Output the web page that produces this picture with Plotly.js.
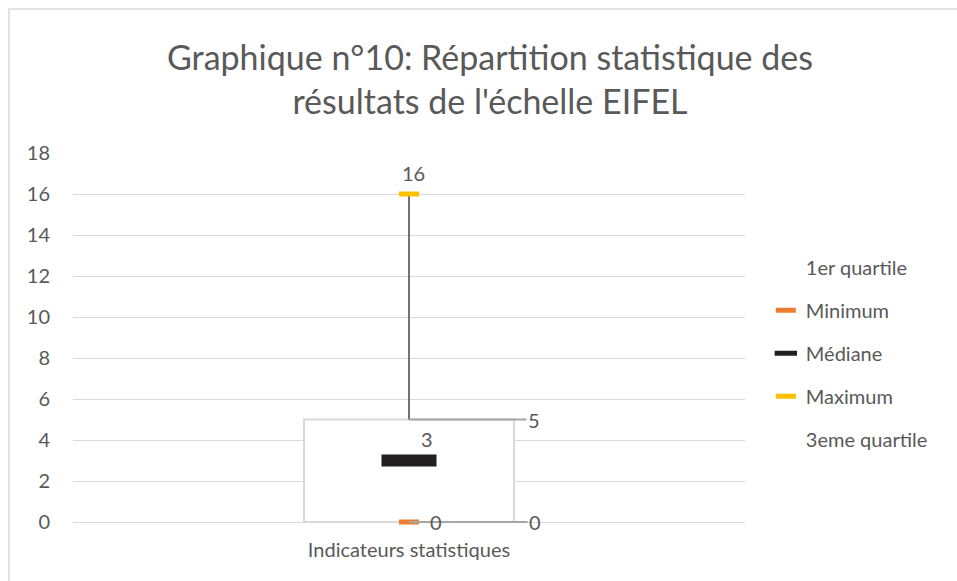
<!DOCTYPE html>
<html>
<head>
<meta charset="utf-8">
<script src="https://cdn.plot.ly/plotly-3.0.1.min.js"></script>
<style>html,body{margin:0;padding:0;background:#fff;}#chart{width:957px;height:581px;}</style>
</head>
<body>
<div id="chart"></div>
<script>
// ---- data ----
const categories = ["Indicateurs statistiques"];
const quartile1 = [0];
const minimum = [0];
const mediane = [3];
const maximum = [16];
const quartile3 = [5];
const yTicks = [0, 2, 4, 6, 8, 10, 12, 14, 16, 18];

const grey = '#595959';
const font = 'Lato, "Open Sans", sans-serif';

const traces = [
  // box (up/down bar between 1st and 3rd quartile)
  {type: 'bar', x: categories, base: quartile1, y: quartile3.map((v, i) => v - quartile1[i]),
   width: 0.3125, marker: {color: '#ffffff', line: {color: '#d9d9d9', width: 2}},
   showlegend: false, hoverinfo: 'skip'},
  // high-low line
  {type: 'scatter', mode: 'lines', x: [categories[0], categories[0]], y: [quartile3[0], maximum[0]],
   line: {color: '#767171', width: 2}, showlegend: false, hoverinfo: 'skip', cliponaxis: false},
  {type: 'scatter', mode: 'markers', name: '1er quartile', x: categories, y: quartile1,
   marker: {color: 'rgba(0,0,0,0)', size: 1}, legendgroup: 'a', cliponaxis: false},
  {type: 'scatter', mode: 'markers', name: 'Minimum', x: categories, y: minimum, cliponaxis: false,
   marker: {symbol: 'line-ew', size: 14.3, color: '#ED7D31', line: {color: '#ED7D31', width: 5}}, legendgroup: 'b'},
  {type: 'scatter', mode: 'markers', name: 'Médiane', x: categories, y: mediane, cliponaxis: false,
   marker: {symbol: 'line-ew', size: 39.3, color: '#231F20', line: {color: '#231F20', width: 12}}, legendgroup: 'c'},
  {type: 'scatter', mode: 'markers', name: 'Maximum', x: categories, y: maximum, cliponaxis: false,
   marker: {symbol: 'line-ew', size: 14.3, color: '#FFC000', line: {color: '#FFC000', width: 5}}, legendgroup: 'd'},
  {type: 'scatter', mode: 'markers', name: '3eme quartile', x: categories, y: quartile3, cliponaxis: false,
   marker: {color: 'rgba(0,0,0,0)', size: 1}, legendgroup: 'e'}
];

const labelFont = {family: font, size: 20, color: grey};
const annotations = [
  {x: categories[0], y: maximum[0], text: String(maximum[0]), showarrow: false, xshift: 4, yshift: 21, font: labelFont},
  {x: categories[0], y: mediane[0], text: String(mediane[0]), showarrow: false, xshift: 18, yshift: 22, font: labelFont},
  {x: categories[0], y: quartile3[0], text: String(quartile3[0]), showarrow: true, arrowhead: 0, arrowwidth: 2,
   arrowcolor: '#a6a6a6', ax: 125, ay: 0, standoff: 0, font: labelFont},
  {x: categories[0], y: quartile1[0], text: String(quartile1[0]), showarrow: true, arrowhead: 0, arrowwidth: 2,
   arrowcolor: '#a6a6a6', ax: 126, ay: 0, standoff: 0, font: labelFont},
  {x: categories[0], y: minimum[0], text: String(minimum[0]), showarrow: true, arrowhead: 0, arrowwidth: 2,
   arrowcolor: '#a6a6a6', ax: 27, ay: 0, standoff: 0, font: labelFont}
];

const layout = {
  width: 957, height: 581,
  margin: {l: 73, r: 212, t: 153, b: 59},
  paper_bgcolor: '#ffffff', plot_bgcolor: '#ffffff',
  font: {family: font, color: grey},
  title: {text: "Graphique n°10: Répartition statistique des<br>résultats de l'échelle EIFEL",
          font: {family: font, size: 34, color: grey}, x: 0.512, xanchor: 'center',
          y: 1 - 70 / 581, yanchor: 'top', yref: 'container'},
  xaxis: {type: 'category', range: [-0.5, 0.5], showgrid: false, zeroline: false, showline: false,
          ticks: '', ticklabelstandoff: 14, tickfont: {family: font, size: 20, color: grey}, fixedrange: true},
  yaxis: {range: [0, 18], tickvals: yTicks, ticktext: yTicks.map(String), showgrid: true,
          gridcolor: '#d9d9d9', gridwidth: 1, zeroline: true, zerolinecolor: '#d9d9d9', zerolinewidth: 1,
          showline: false, ticks: '', ticklabelstandoff: 22,
          tickfont: {family: font, size: 20, color: grey}, fixedrange: true},
  showlegend: true,
  legend: {x: 1.031, xanchor: 'left', y: 0.457, yanchor: 'middle', traceorder: 'grouped', itemsizing: 'trace',
           tracegroupgap: 14, font: {family: font, size: 20, color: grey}, bgcolor: 'rgba(0,0,0,0)'},
  annotations: annotations,
  shapes: [{type: 'rect', xref: 'paper', yref: 'paper', x0: (9 - 73) / 672, x1: 2, y0: -1, y1: (522 - 9) / 369,
            line: {color: '#d9d9d9', width: 1.5}, fillcolor: 'rgba(0,0,0,0)', layer: 'below'}],
  bargap: 0
};

Plotly.newPlot('chart', traces, layout, {displayModeBar: false, staticPlot: true});
</script>
</body>
</html>
